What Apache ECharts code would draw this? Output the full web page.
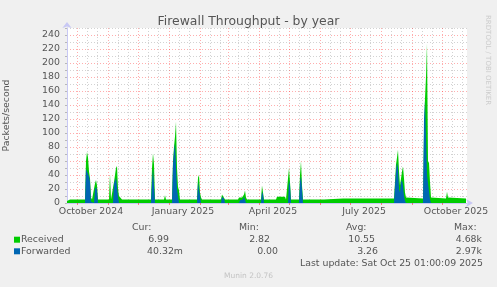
<!DOCTYPE html>
<html><head><meta charset="utf-8">
<script src="https://cdn.jsdelivr.net/npm/echarts@6/dist/echarts.min.js"></script>
<style>html,body{margin:0;padding:0;background:#f0f0f0}#c{width:497px;height:287px}</style>
</head><body><div id="c"></div>
<script>
// x axis: one category per day, day 0 = 2024-09-21
const startDate = Date.UTC(2024, 8, 21);
const dayCount = 401;
const categories = [];
for (let i = 0; i < dayCount; i++) categories.push(new Date(startDate + i * 86400000).toISOString().slice(0, 10));

const xLabelDates = ['2024-10-15', '2025-01-15', '2025-04-15', '2025-07-15', '2025-10-15'];
const xLabelTexts = ['October 2024', 'January 2025', 'April 2025', 'July 2025', 'October 2025'];
const yTickLabels = [0, 20, 40, 60, 80, 100, 120, 140, 160, 180, 200, 220, 240];

// Received (packets/second), key points: day index -> value
const receivedDay = [0,2,3,18,19,20,21,22,23,24,25,27,28,29,30,31,42,43,44,46,47,48,49,50,51,52,53,55,84,85,86,87,88,97,98,99,105,106,107,108,109,110,111,112,113,130,131,132,133,134,135,154,155,156,157,158,171,172,175,177,178,179,180,194,195,196,197,209,210,218,219,221,222,223,224,232,233,234,235,236,257,258,276,277,278,302,303,304,327,328,329,330,331,332,333,334,335,336,337,338,339,340,356,357,358,359,360,361,362,363,364,365,379,380,381,382,399];
const receivedVal = [3,3,5,5,60,73,65,45,35,8,5,5,28,33,25,5,5,41,5,5,30,40,50,53,20,10,8,5,5,50,71,55,5,5,11,5,5,60,80,95,116,50,23,18,5,5,36,40,15,8,5,5,12,14,10,5,5,8,8,12,18,8,5,5,25,15,5,5,9,9,5,5,50,30,5,5,40,60,25,5,5,6.5,6.5,9,6.5,6.5,8,6.5,6.5,30,55,65,76,45,25,35,45,52,35,15,8,6.5,6.5,100,150,180,228,60,57,30,8,6.5,6.5,16,8,6.5,6.5];

// Forwarded (packets/second), key points: day index -> value
const forwardedDay = [0,18,19,20,21,22,23,24,25,27,28,29,30,31,46,47,48,49,50,51,52,84,85,86,87,88,105,106,107,108,109,110,111,112,130,131,132,133,134,154,155,156,157,158,172,173,176,177,178,179,194,195,196,197,221,222,223,224,232,233,234,235,236,327,328,329,330,331,332,333,334,335,336,337,338,339,356,357,358,359,360,361,362,363,364,399];
const forwardedVal = [0,0,49,50,50,38,30,2,0,0,20,23,18,0,0,28,30,36,34,10,0,0,30,49,47,0,0,55,75,85,84,20,10,0,0,30,32,10,0,0,9,9,6,0,0,4,5,9,9,0,0,16,12,0,0,32,25,0,0,30,38,20,0,0,25,45,57,50,20,15,30,33,25,10,3,0,0,120,146,145,40,40,38,5,0,0];

// legend table
const seriesNames = ['Received', 'Forwarded'];
const seriesColors = ['#00cc00', '#0066b3'];
const curVals = ['6.99', '40.32m'];
const minVals = ['2.82', '0.00'];
const avgVals = ['10.55', '3.26'];
const maxVals = ['4.68k', '2.97k'];

const FONT = 'DejaVu Sans';
const TXT = '#555555';
const RED = 'rgba(255,0,0,0.32)';
const GRAY = '#d2d2d2';
const AXIS = '#c8c8f4';

const dayOf = s => parseInt(s.slice(8, 10), 10);
const isMonthStart = (i, v) => dayOf(categories[i]) === 1;
const isMinorDay = (i, v) => { const d = dayOf(categories[i]); return d === 11 || d === 21; };
const isLabelDay = (i, v) => xLabelDates.indexOf(categories[i]) >= 0;

function txt(x, y, text, opts) {
  opts = opts || {};
  return {
    type: 'text', x: x, y: y, rotation: opts.rotation || 0, silent: true,
    style: {
      text: text, fill: opts.fill || TXT, fontSize: opts.size || 9.4, fontFamily: FONT,
      textAlign: opts.align || 'left', align: opts.align || 'left',
      textVerticalAlign: 'middle', verticalAlign: 'middle'
    }
  };
}

const graphics = [];
graphics.push(txt(132, 228, 'Cur:'));
graphics.push(txt(239, 228, 'Min:'));
graphics.push(txt(346, 228, 'Avg:'));
graphics.push(txt(454, 228, 'Max:'));
const rowY = [239.7, 251.3];
for (let r = 0; r < 2; r++) {
  graphics.push({ type: 'rect', silent: true, shape: { x: 14, y: rowY[r] - 3, width: 6, height: 6 }, style: { fill: seriesColors[r] } });
  graphics.push(txt(21, rowY[r], seriesNames[r]));
}
graphics.push(txt(169, rowY[0], curVals[0], { align: 'right' }));
graphics.push(txt(183, rowY[1], curVals[1], { align: 'right' }));
graphics.push(txt(270, rowY[0], minVals[0], { align: 'right' }));
graphics.push(txt(278, rowY[1], minVals[1], { align: 'right' }));
graphics.push(txt(375, rowY[0], avgVals[0], { align: 'right' }));
graphics.push(txt(378, rowY[1], avgVals[1], { align: 'right' }));
graphics.push(txt(482, rowY[0], maxVals[0], { align: 'right' }));
graphics.push(txt(482, rowY[1], maxVals[1], { align: 'right' }));
graphics.push(txt(483, 263.7, 'Last update: Sat Oct 25 01:00:09 2025', { align: 'right' }));
graphics.push(txt(248.5, 276, 'Munin 2.0.76', { align: 'center', fill: '#c4c4c4', size: 7.5 }));
graphics.push(txt(488, 15, 'RRDTOOL / TOBI OETIKER', { rotation: -Math.PI / 2, fill: '#cccccc', size: 7 }));

const chart = echarts.init(document.getElementById('c'), null, { renderer: 'canvas' });
chart.setOption({
  animation: false,
  backgroundColor: '#f0f0f0',
  title: {
    text: 'Firewall Throughput - by year', left: 'center', top: 11,
    textStyle: { fontFamily: FONT, fontSize: 12.4, fontWeight: 'normal', color: TXT }
  },
  grid: { left: 67, right: 30, top: 28, bottom: 84, containLabel: false, outerBoundsMode: 'none', show: true, backgroundColor: '#ffffff', borderWidth: 0 },
  xAxis: [{
    type: 'category', data: categories, boundaryGap: false,
    axisLine: { show: true, lineStyle: { color: AXIS, width: 1 }, symbol: ['none', 'arrow'], symbolSize: [6, 7], symbolOffset: [0, 6] },
    axisTick: { show: true, interval: isMonthStart, length: 2, lineStyle: { color: 'rgba(255,0,0,0.45)' } },
    axisLabel: {
      interval: isLabelDay, margin: 4, color: TXT, fontSize: 9.4, fontFamily: FONT,
      formatter: v => { const k = xLabelDates.indexOf(v); return k >= 0 ? xLabelTexts[k] : ''; }
    },
    splitLine: { show: true, interval: isMonthStart, lineStyle: { color: RED, type: [1, 2], width: 1 } }
  }, {
    type: 'category', data: categories, boundaryGap: false, position: 'bottom',
    axisLine: { show: false }, axisTick: { show: false }, axisLabel: { show: false },
    splitLine: { show: true, interval: isMinorDay, lineStyle: { color: GRAY, type: [1, 2], width: 1 } }
  }],
  yAxis: {
    type: 'value', min: 0, max: 250, interval: 10,
    name: 'Packets/second', nameLocation: 'middle', nameGap: 56,
    nameTextStyle: { color: TXT, fontSize: 9.4, fontFamily: FONT },
    axisLine: { show: true, lineStyle: { color: AXIS, width: 1 }, symbol: ['none', 'arrow'], symbolSize: [7, 6], symbolOffset: [0, 6] },
    axisTick: { show: true, length: 2, lineStyle: { color: '#b8b8b8' } },
    axisLabel: { margin: 7, color: TXT, fontSize: 9.4, fontFamily: FONT, formatter: v => yTickLabels.indexOf(v) >= 0 ? String(v) : '' },
    splitLine: { show: true, lineStyle: { color: [RED, GRAY], type: [1, 2], width: 1 } }
  },
  series: [{
    name: seriesNames[0], type: 'line', xAxisIndex: 0, silent: true, symbol: 'none', showSymbol: false,
    data: receivedDay.map((d, i) => [d, receivedVal[i]]),
    lineStyle: { width: 0 }, itemStyle: { color: seriesColors[0] },
    areaStyle: { color: seriesColors[0], opacity: 1 }
  }, {
    name: seriesNames[1], type: 'line', xAxisIndex: 0, silent: true, symbol: 'none', showSymbol: false,
    data: forwardedDay.map((d, i) => [d, forwardedVal[i]]),
    lineStyle: { width: 0 }, itemStyle: { color: seriesColors[1] },
    areaStyle: { color: seriesColors[1], opacity: 1 }
  }],
  graphic: graphics
});
</script>
</body></html>
